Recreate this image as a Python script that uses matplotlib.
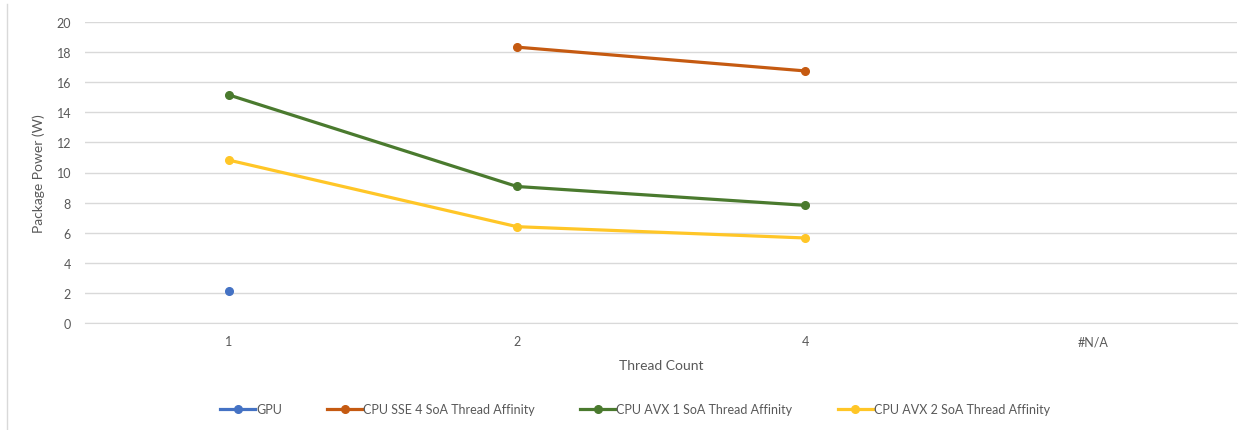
import numpy as np
import matplotlib.pyplot as plt
from matplotlib.lines import Line2D

# Data
categories = ["1", "2", "4", "#N/A"]
gpu = [2.15, np.nan, np.nan, np.nan]
sse4 = [np.nan, 18.33, 16.75, np.nan]
avx1 = [15.15, 9.07, 7.82, np.nan]
avx2 = [10.82, 6.4, 5.65, np.nan]

series = [
    ("GPU", gpu, "#4472C4"),
    ("CPU SSE 4 SoA Thread Affinity", sse4, "#C55A11"),
    ("CPU AVX 1 SoA Thread Affinity", avx1, "#4A7A2E"),
    ("CPU AVX 2 SoA Thread Affinity", avx2, "#FFC627"),
]

plt.rcParams["font.family"] = ["Lato", "DejaVu Sans"]

fig = plt.figure(figsize=(12.53, 4.31), dpi=100)
ax = fig.add_axes([85 / 1253, 1 - 324 / 431, 1152 / 1253, 301 / 431])

x = np.arange(len(categories))
for name, vals, color in series:
    ax.plot(x, vals, color=color, lw=2.3, marker="o", markersize=5.5,
            label=name, solid_capstyle="round")

ax.set_xlim(-0.5, len(categories) - 0.5)
ax.set_ylim(0, 20)
ax.set_yticks(np.arange(0, 21, 2))
ax.set_xticks(x)
ax.set_xticklabels(categories)
ax.tick_params(length=0, labelsize=9, colors="#595959")
ax.tick_params(axis="x", pad=9)
ax.tick_params(axis="y", pad=10)
ax.grid(axis="y", color="#D9D9D9", lw=1)
ax.set_axisbelow(True)
for s in ax.spines.values():
    s.set_visible(False)
ax.spines["bottom"].set_visible(True)
ax.spines["bottom"].set_color("#D9D9D9")

ax.set_xlabel("Thread Count", fontsize=10, color="#595959", labelpad=8)
ax.set_ylabel("Package Power (W)", fontsize=10, color="#595959", labelpad=8)

# legend along the bottom
handles = [Line2D([0], [0], color=c, lw=2.3, marker="o", markersize=5.5)
           for _, _, c in series]
labels = [n for n, _, _ in series]
fig.legend(handles, labels, loc="center", bbox_to_anchor=(635 / 1253, 1 - 410 / 431),
           ncol=4, frameon=False, fontsize=9, labelcolor="#595959",
           handlelength=2.8, handletextpad=0.1, columnspacing=3.6)

# chart area border (left edge visible)
fig.add_artist(Line2D([7 / 1253, 7 / 1253], [0, 1 - 5 / 431], color="#D9D9D9",
                      lw=1, transform=fig.transFigure))

fig.savefig("out.png", dpi=100)
